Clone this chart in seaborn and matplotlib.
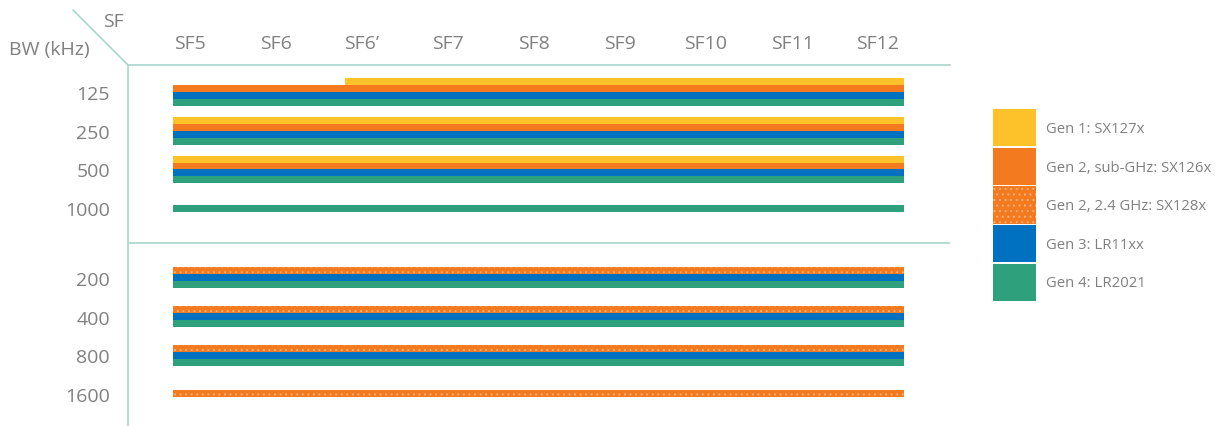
import matplotlib
matplotlib.use("Agg")
import numpy as np
import pandas as pd
import matplotlib.pyplot as plt
import seaborn as sns
from matplotlib.patches import Patch
from matplotlib.lines import Line2D

sns.set_theme(style="white")
plt.rcParams['font.family'] = ['Open Sans', 'DejaVu Sans']
plt.rcParams['hatch.linewidth'] = 0.7

# spreading factors (x) and bandwidths (y)
sf_labels = ["SF5", "SF6", "SF6\u2019", "SF7", "SF8", "SF9", "SF10", "SF11", "SF12"]
bw_sub = [125, 250, 500, 1000]
bw_24 = [200, 400, 800, 1600]

gen_names = ["Gen 1: SX127x", "Gen 2, sub-GHz: SX126x", "Gen 2, 2.4 GHz: SX128x",
             "Gen 3: LR11xx", "Gen 4: LR2021"]
gen_colors = ["#FDC22A", "#F47A20", "#F47A20", "#0070C0", "#2EA07C"]
gen_hatch = [None, None, "...", None, None]

# (bandwidth, first SF, last SF) supported per generation
gen1 = [(125, "SF6\u2019", "SF12"), (250, "SF5", "SF12"), (500, "SF5", "SF12")]
gen2_sub = [(125, "SF5", "SF12"), (250, "SF5", "SF12"), (500, "SF5", "SF12")]
gen2_24 = [(200, "SF5", "SF12"), (400, "SF5", "SF12"), (800, "SF5", "SF12"), (1600, "SF5", "SF12")]
gen3 = [(125, "SF5", "SF12"), (250, "SF5", "SF12"), (500, "SF5", "SF12"),
        (200, "SF5", "SF12"), (400, "SF5", "SF12"), (800, "SF5", "SF12")]
gen4 = [(125, "SF5", "SF12"), (250, "SF5", "SF12"), (500, "SF5", "SF12"), (1000, "SF5", "SF12"),
        (200, "SF5", "SF12"), (400, "SF5", "SF12"), (800, "SF5", "SF12")]

records = []
for g, cov in enumerate([gen1, gen2_sub, gen2_24, gen3, gen4]):
    for bw, first, last in cov:
        records.append(dict(gen=g, bw=bw, first=sf_labels.index(first), last=sf_labels.index(last)))
df = pd.DataFrame(records)

# row layout
group_gap = 1.8
row_y = {bw: i for i, bw in enumerate(bw_sub)}
row_y.update({bw: len(bw_sub) - 1 + group_gap + i for i, bw in enumerate(bw_24)})
bar_h = 0.18
pad_l, pad_r = 0.2, 0.3

line_col = "#A9D6CC"
text_col = "#808080"

fig = plt.figure(figsize=(12.19, 4.27), dpi=100)
ax = fig.add_axes([128 / 1219, 0, 822 / 1219, 1 - 66 / 427])

for bw, grp in df.groupby("bw"):
    grp = grp.sort_values("gen")
    n = len(grp)
    for k, (_, r) in enumerate(grp.iterrows()):
        y = row_y[bw] + (k - (n - 1) / 2) * bar_h
        g = int(r["gen"])
        hatch = gen_hatch[g]
        ax.barh(y, r["last"] - r["first"] + pad_l + pad_r, left=r["first"] - pad_l,
                height=bar_h, color=gen_colors[g], hatch=hatch,
                edgecolor="#FBB27C" if hatch else gen_colors[g], linewidth=0)

ax.axhline(len(bw_sub) - 1 + group_gap / 2, color=line_col, lw=1.2)

ax.set_xlim(-0.721, 8.837)
ax.set_ylim(8.63, -0.70)

ax.xaxis.tick_top()
ax.set_xticks(range(len(sf_labels)), sf_labels)
ax.set_yticks([row_y[b] for b in bw_sub + bw_24], [str(b) for b in bw_sub + bw_24])
ax.tick_params(axis="x", length=0, pad=9, labelsize=14, labelcolor=text_col)
ax.tick_params(axis="y", length=0, pad=13, labelsize=14, labelcolor=text_col)
ax.grid(False)

sns.despine(ax=ax, top=False, right=True, bottom=True, left=False)
for s in ["top", "left"]:
    ax.spines[s].set_color(line_col)
    ax.spines[s].set_linewidth(1.2)

# corner header
fig.add_artist(Line2D([73 / 1219, 128 / 1219], [1 - 11 / 427, 1 - 66 / 427],
                      transform=fig.transFigure, color=line_col, lw=1.2))
fig.text(113 / 1219, 1 - 22 / 427, "SF", ha="center", va="center", fontsize=14, color=text_col)
fig.text(49 / 1219, 1 - 50 / 427, "BW (kHz)", ha="center", va="center", fontsize=14, color=text_col)

handles = [Patch(facecolor=c, hatch=h, edgecolor="#FBB27C" if h else c, linewidth=0)
           for c, h in zip(gen_colors, gen_hatch)]
fig.legend(handles, gen_names, loc="upper left", bbox_to_anchor=(993 / 1219, 1 - 110 / 427),
           frameon=False, fontsize=10.7, labelcolor=text_col, handlelength=2.9, handleheight=3.5,
           labelspacing=0.08, handletextpad=0.7, borderpad=0, borderaxespad=0)

fig.savefig("out.png", dpi=100)
